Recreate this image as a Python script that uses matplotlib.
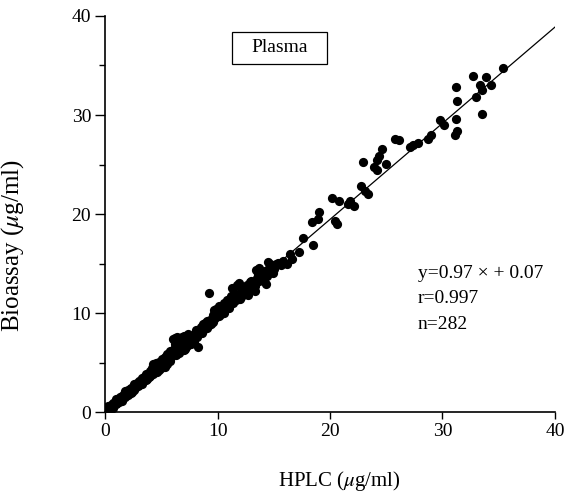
import numpy as np
import matplotlib.pyplot as plt
from matplotlib.patches import Rectangle

# low range (0-5 ug/ml), dense part of the cloud
hplc_low = [0.0, 0.1, 0.1, 0.2, 0.2, 0.3, 0.3, 0.4, 0.5, 0.5,
            0.6, 0.7, 0.7, 0.8, 0.9, 1.0, 1.0, 1.1, 1.2, 1.2,
            1.3, 1.4, 1.5, 1.5, 1.6, 1.7, 1.8, 1.8, 1.9, 2.0,
            2.0, 2.1, 2.2, 2.3, 2.3, 2.4, 2.5, 2.6, 2.6, 2.7,
            2.8, 2.9, 3.0, 3.0, 3.1, 3.2, 3.3, 3.3, 3.4, 3.5,
            3.6, 3.6, 3.7, 3.8, 3.9, 4.0, 4.0, 4.1, 4.2, 4.3,
            4.3, 4.4, 4.5, 4.5, 4.6, 4.7, 4.8, 4.8, 4.9, 5.0]
bio_low = [0.3, 0.0, 0.4, 0.2, 0.5, 0.1, 0.6, 0.4, 0.3, 0.7,
           0.5, 0.9, 0.4, 0.7, 1.0, 0.8, 1.3, 0.9, 1.3, 1.0,
           1.5, 1.2, 1.6, 1.1, 1.4, 1.9, 1.5, 2.2, 1.8, 2.3,
           1.7, 2.0, 2.4, 2.0, 2.5, 2.1, 2.6, 2.3, 2.9, 2.5,
           3.0, 2.7, 3.2, 2.8, 3.0, 3.3, 2.9, 3.5, 3.2, 3.6,
           3.3, 3.9, 3.4, 3.8, 3.6, 4.2, 3.7, 4.0, 4.5, 3.9,
           4.9, 4.2, 4.4, 5.0, 4.1, 4.6, 5.1, 4.3, 4.7, 4.5]

# mid range (5-16 ug/ml)
hplc_mid = [5.1, 5.2, 5.3, 5.4, 5.5, 5.5, 5.6, 5.7, 5.8, 5.9,
            6.0, 6.0, 6.1, 6.2, 6.3, 6.4, 6.4, 6.5, 6.6, 6.7,
            6.8, 6.8, 6.9, 7.0, 7.1, 7.2, 7.2, 7.3, 7.4, 7.5,
            7.6, 7.7, 7.8, 7.9, 8.0, 8.1, 8.2, 8.3, 8.3, 8.4,
            8.5, 8.6, 8.7, 8.8, 8.9, 9.0, 9.1, 9.2, 9.3, 9.4,
            9.5, 9.6, 9.7, 9.8, 9.9, 10.0, 10.1, 10.2, 10.3, 10.4,
            10.5, 10.6, 10.7, 10.8, 10.9, 11.0, 11.1, 11.2, 11.3, 11.4,
            11.5, 11.6, 11.7, 11.8, 11.9, 12.0, 12.1, 12.2, 12.3, 12.4,
            12.5, 12.6, 12.7, 12.8, 12.9, 13.0, 13.1, 13.2, 13.3, 13.4,
            13.5, 13.6, 13.7, 13.8, 13.9, 14.0, 14.1, 14.2, 14.3, 14.4,
            14.5, 14.6, 14.7, 14.8, 14.9, 15.0, 15.2, 15.4, 15.6, 15.8,
            5.3, 5.8, 6.2, 6.6, 7.0, 7.4, 7.9, 8.7, 9.1, 9.6, 10.1,
            10.6, 11.0, 11.5, 12.0, 12.5, 12.9, 13.3, 13.7, 14.1, 14.5, 14.9]
bio_mid = [5.4, 4.8, 5.6, 5.0, 5.9, 4.9, 5.3, 6.0, 5.2, 5.6,
           7.4, 6.0, 6.4, 7.5, 5.8, 6.6, 7.6, 6.3, 7.3, 6.2,
           7.6, 6.5, 7.0, 7.7, 6.4, 7.2, 6.6, 7.5, 6.8, 7.3,
           6.9, 7.4, 7.8, 7.1, 7.9, 8.3, 7.6, 6.6, 8.0, 8.4,
           8.6, 8.0, 8.9, 8.4, 9.0, 8.6, 9.2, 8.8, 9.3, 8.9,
           9.4, 9.8, 10.3, 9.5, 10.4, 10.0, 9.7, 10.6, 9.9, 10.3,
           10.2, 11.0, 10.4, 11.3, 10.6, 11.2, 10.9, 11.7, 12.5, 11.0,
           11.6, 11.3, 12.9, 11.5, 13.1, 12.0, 11.6, 12.4, 11.9, 12.6,
           12.3, 12.8, 11.8, 12.9, 12.5, 13.3, 12.4, 13.0, 12.2, 14.4,
           13.6, 14.0, 13.3, 14.2, 13.5, 13.9, 13.6, 14.3, 13.0, 13.8,
           14.3, 14.6, 15.0, 14.4, 14.8, 14.5, 15.0, 15.1, 14.9, 15.3,
           4.6, 6.2, 6.9, 6.0, 6.3, 7.9, 7.3, 8.3, 8.5, 9.1, 10.7,
           10.0, 10.5, 12.0, 11.4, 12.0, 13.2, 12.7, 14.6, 13.3, 15.2, 14.1]

# high range (above 16 ug/ml) plus the outlier near 9
hplc_high = [9.2, 16.2, 16.4, 16.6, 17.2, 17.6, 18.5, 18.4, 18.9, 19.0,
             20.2, 20.8, 20.4, 20.6, 21.6, 21.8, 22.1, 22.8, 23.1, 23.4,
             22.9, 23.9, 24.2, 24.2, 24.4, 24.6, 25.0, 25.8, 26.1, 27.1,
             27.4, 27.8, 28.7, 29.0, 29.8, 30.1, 31.1, 31.3, 31.2, 31.3,
             31.2, 32.7, 33.0, 33.5, 33.3, 33.9, 34.3, 33.5, 35.4]
bio_high = [12.0, 15.0, 16.0, 15.5, 16.2, 17.6, 16.9, 19.2, 19.5, 20.2,
            21.6, 21.3, 19.3, 19.0, 21.0, 21.3, 20.8, 22.8, 22.3, 22.0,
            25.3, 24.8, 24.5, 25.5, 25.9, 26.6, 25.1, 27.6, 27.5, 26.8,
            27.0, 27.2, 27.6, 28.0, 29.5, 29.0, 28.0, 28.4, 29.6, 31.4,
            32.8, 33.9, 31.8, 32.5, 33.0, 33.8, 33.0, 30.1, 34.7]

slope, intercept = 0.97, 0.07
fit_text = ['y=0.97 \u00d7 + 0.07', 'r=0.997', 'n=282']

plt.rcParams['font.family'] = ['Liberation Serif', 'DejaVu Serif']
plt.rcParams['mathtext.fontset'] = 'stix'

hplc = np.array(hplc_low + hplc_mid + hplc_high)
bio = np.array(bio_low + bio_mid + bio_high)

fig = plt.figure(figsize=(5.68, 4.98), dpi=100)
ax = fig.add_axes([0.185, 0.172, 0.792, 0.796])

xl = np.array([0, 40])
ax.plot(xl, slope * xl + intercept, color='k', linewidth=0.9, zorder=2)
ax.scatter(hplc, bio, s=44, color='k', linewidths=0, zorder=3)

ax.set_xlim(0, 40)
ax.set_ylim(0, 40)
ax.set_xticks([0, 10, 20, 30, 40])
ax.set_yticks([0, 10, 20, 30, 40])
ax.set_yticks([5, 15, 25, 35], minor=True)
ax.spines['top'].set_visible(False)
ax.spines['right'].set_visible(False)
ax.spines['left'].set_linewidth(1.2)
ax.spines['bottom'].set_linewidth(1.2)
ax.tick_params(axis='x', direction='out', length=5, width=1, labelsize=14, pad=3)
ax.tick_params(axis='y', which='major', direction='out', length=7, width=1, labelsize=14, pad=3)
ax.tick_params(axis='y', which='minor', direction='out', length=4, width=1)

ax.set_xlabel('HPLC ($\\mu$g/ml)', fontsize=15)
ax.set_ylabel('Bioassay ($\\mu$g/ml)', fontsize=18)
ax.xaxis.set_label_coords(0.52, -0.143)
ax.yaxis.set_label_coords(-0.176, 0.42)

ax.add_patch(Rectangle((11.3, 35.2), 8.4, 3.2, fill=False, edgecolor='k',
                       linewidth=0.9, clip_on=False))
ax.text(15.5, 36.8, 'Plasma', ha='center', va='center', fontsize=14)

for i, t in enumerate(fit_text):
    ax.text(27.8, 14.0 - i * 2.55, t, ha='left', va='center', fontsize=14)

fig.savefig('out.png', dpi=100)
